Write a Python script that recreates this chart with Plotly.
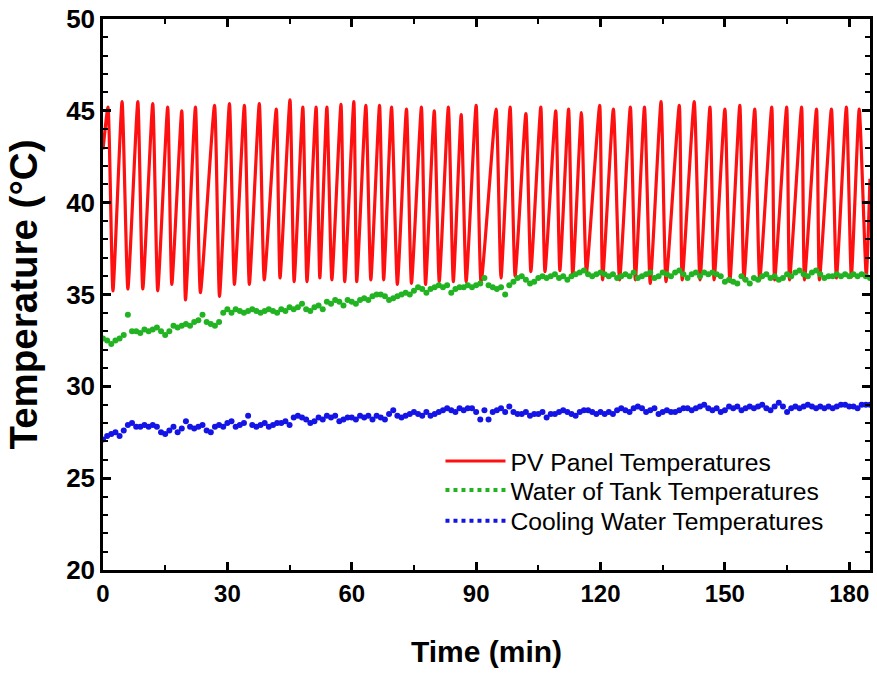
import plotly.graph_objects as go

# PV panel temperature cycles: start value, peaks, troughs and end value
pv_start = (0.0, 42.9)
pv_end = (185.0, 41.3)
peak_t = [1.2, 4.6, 8.4, 12.0, 15.6, 19.0, 22.3, 26.9, 30.5, 34.1, 37.7, 41.8, 45.1,
          48.2, 51.4, 54.0, 57.4, 60.5, 63.4, 66.7, 69.6, 73.2, 76.8, 79.9, 83.3, 86.4,
          90.0, 94.8, 98.2, 102.0, 105.6, 109.2, 112.3, 115.4, 119.8, 123.1, 127.2, 130.6,
          134.6, 139.0, 142.6, 146.4, 150.0, 153.6, 157.2, 161.3, 164.9, 168.5, 172.1,
          175.7, 179.3, 182.4]
peak_v = [45.2, 45.5, 45.5, 45.4, 45.2, 45.0, 45.2, 45.3, 45.4, 45.3, 45.4, 45.1, 45.6,
          45.2, 45.2, 45.2, 45.35, 45.5, 45.3, 45.3, 45.2, 45.1, 45.2, 45.0, 45.2, 44.8,
          45.3, 45.1, 45.2, 44.85, 45.2, 45.0, 45.1, 44.9, 45.3, 45.1, 45.2, 45.2,
          45.5, 45.3, 45.5, 45.2, 45.1, 45.3, 45.1, 45.2, 45.2, 45.2, 45.1,
          45.1, 45.2, 45.1]
trough_t = [2.4, 6.0, 9.6, 13.2, 16.6, 19.9, 23.5, 28.1, 31.7, 35.3, 38.9, 42.7, 46.1,
            49.2, 52.3, 55.2, 58.3, 61.2, 64.6, 67.7, 71.0, 74.4, 77.8, 81.1, 84.5, 87.6,
            91.2, 96.0, 99.4, 103.2, 106.6, 110.2, 113.3, 116.6, 120.5, 124.6, 128.4, 132.0,
            135.8, 139.7, 144.0, 147.4, 151.2, 154.6, 158.4, 162.0, 165.6, 169.2, 172.8,
            176.9, 180.5, 184.1]
trough_v = [35.2, 35.3, 35.3, 35.2, 35.55, 34.7, 35.1, 34.9, 35.55, 35.55, 35.8, 35.9, 35.7,
            35.7, 35.9, 35.8, 35.7, 35.7, 35.8, 35.8, 35.55, 35.6, 35.55, 35.7, 35.7, 35.7,
            35.65, 35.9, 36.0, 36.25, 36.25, 36.3, 36.0, 36.2, 35.8, 35.8, 35.8, 35.6,
            35.7, 35.8, 35.8, 35.8, 35.7, 35.8, 35.8, 35.8, 35.8, 35.8, 35.8,
            35.9, 35.95, 36.0]

# Water temperatures sampled once a minute
time_min = list(range(0, 186))
tank_water = [
    32.6, 32.5, 32.3, 32.5, 32.6, 32.8, 33.9, 33.0, 33.0, 32.9,
    33.1, 33.0, 33.1, 33.2, 33.0, 32.8, 33.0, 33.3, 33.2, 33.3,
    33.4, 33.3, 33.5, 33.6, 33.9, 33.5, 33.4, 33.3, 33.5, 34.0,
    34.2, 34.0, 34.2, 34.1, 34.0, 34.1, 34.2, 34.1, 34.0, 34.1,
    34.2, 34.1, 34.0, 34.2, 34.1, 34.3, 34.2, 34.3, 34.5, 34.2,
    34.1, 34.3, 34.4, 34.2, 34.6, 34.5, 34.7, 34.6, 34.4, 34.7,
    34.6, 34.5, 34.7, 34.8, 34.7, 34.9, 35.0, 35.0, 34.9, 34.7,
    34.8, 34.9, 35.0, 35.1, 35.0, 35.2, 35.4, 35.3, 35.1, 35.3,
    35.4, 35.5, 35.4, 35.5, 35.1, 35.3, 35.4, 35.4, 35.5, 35.4,
    35.5, 35.6, 35.9, 35.5, 35.4, 35.3, 35.4, 35.0, 35.5, 35.7,
    35.9, 36.0, 35.8, 35.6, 35.7, 35.9, 36.0, 35.9, 36.0, 36.1,
    35.9, 36.0, 35.8, 36.0, 36.1, 36.2, 36.3, 36.1, 36.0, 36.1,
    36.2, 36.1, 36.0, 36.1, 35.9, 36.0, 36.1, 36.0, 36.2, 35.9,
    36.0, 36.1, 36.2, 35.9, 36.0, 36.2, 36.1, 36.0, 36.2, 36.3,
    36.1, 35.9, 36.1, 36.2, 36.0, 36.2, 36.1, 36.2, 36.1, 36.0,
    35.7, 35.8, 35.7, 35.6, 36.0, 35.8, 35.6, 35.9, 35.8, 36.0,
    36.1, 35.9, 36.0, 35.8, 35.9, 36.1, 36.0, 36.2, 36.3, 36.1,
    36.0, 36.2, 36.3, 36.1, 35.9, 36.0, 36.0, 36.1, 36.0, 36.1,
    36.0, 36.1, 36.0, 36.1, 36.0, 35.9,
]
cooling_water = [
    27.1, 27.3, 27.4, 27.5, 27.3, 27.6, 27.9, 28.0, 27.8, 27.8,
    27.9, 27.8, 27.9, 27.8, 27.5, 27.4, 27.6, 27.8, 27.5, 27.7,
    28.1, 27.8, 27.7, 27.8, 27.9, 27.6, 27.5, 27.8, 27.9, 27.8,
    28.0, 28.1, 27.8, 27.9, 28.0, 28.4, 27.9, 27.8, 27.9, 28.0,
    27.8, 27.9, 28.0, 28.0, 28.1, 27.9, 28.3, 28.4, 28.3, 28.2,
    28.0, 28.1, 28.3, 28.2, 28.4, 28.3, 28.4, 28.1, 28.2, 28.3,
    28.3, 28.2, 28.4, 28.3, 28.4, 28.2, 28.4, 28.3, 28.2, 28.5,
    28.7, 28.4, 28.3, 28.4, 28.5, 28.6, 28.5, 28.4, 28.6, 28.4,
    28.5, 28.6, 28.7, 28.8, 28.7, 28.6, 28.8, 28.7, 28.8, 28.8,
    28.6, 28.2, 28.7, 28.2, 28.6, 28.7, 28.8, 28.6, 28.9, 28.6,
    28.5, 28.5, 28.6, 28.4, 28.5, 28.5, 28.6, 28.3, 28.5, 28.5,
    28.6, 28.7, 28.6, 28.5, 28.4, 28.6, 28.7, 28.7, 28.6, 28.5,
    28.6, 28.5, 28.6, 28.5, 28.7, 28.8, 28.7, 28.6, 28.8, 28.9,
    28.8, 28.6, 28.7, 28.8, 28.5, 28.6, 28.7, 28.6, 28.6, 28.7,
    28.8, 28.8, 28.7, 28.8, 28.9, 29.0, 28.8, 28.7, 28.8, 28.6,
    28.7, 28.9, 28.8, 28.9, 28.7, 28.8, 28.9, 28.8, 28.9, 29.0,
    28.8, 28.7, 28.9, 29.1, 28.9, 28.6, 28.8, 28.9, 28.8, 28.9,
    29.0, 28.9, 28.8, 28.9, 28.8, 28.9, 28.8, 28.9, 29.0, 29.0,
    28.9, 28.9, 28.8, 29.0, 29.0, 29.0,
]

x_ticks = [0, 30, 60, 90, 120, 150, 180]
y_ticks = [20, 25, 30, 35, 40, 45, 50]

# Assemble the PV polyline: start, then alternating peak/trough, then end
pv_t = [pv_start[0]]
pv_v = [pv_start[1]]
for pt, pv, tt, tv in zip(peak_t, peak_v, trough_t, trough_v):
    pv_t += [pt, tt]
    pv_v += [pv, tv]
pv_t.append(pv_end[0])
pv_v.append(pv_end[1])

RED = "#ff1010"
GREEN = "#22b322"
BLUE = "#1414e6"
FONT = "Liberation Sans, Arial, sans-serif"

fig = go.Figure()
fig.add_trace(go.Scatter(
    x=pv_t, y=pv_v, mode="lines", name="PV Panel Temperatures", legend="legend",
    line=dict(color=RED, width=3.2, shape="spline", smoothing=0.5),
))
fig.add_trace(go.Scatter(
    x=time_min, y=tank_water, mode="markers", showlegend=False,
    marker=dict(color=GREEN, size=6),
))
fig.add_trace(go.Scatter(
    x=time_min, y=cooling_water, mode="markers", showlegend=False,
    marker=dict(color=BLUE, size=6),
))
# dotted legend keys for the sampled series
fig.add_trace(go.Scatter(
    x=[None], y=[None], mode="lines", name="Water of Tank Temperatures", legend="legend2",
    line=dict(color=GREEN, width=4, dash="dot"),
))
fig.add_trace(go.Scatter(
    x=[None], y=[None], mode="lines", name="Cooling Water Temperatures", legend="legend3",
    line=dict(color=BLUE, width=4, dash="dot"),
))

axis_common = dict(
    showgrid=False, zeroline=False, showline=True, linecolor="black", linewidth=2.5,
    mirror="allticks", ticks="inside", ticklen=8, tickwidth=2.5, tickcolor="black",
)
fig.update_xaxes(
    range=[0, 185], tickvals=x_ticks, ticktext=[str(v) for v in x_ticks],
    minor=dict(dtick=15, tick0=0, ticks="inside", ticklen=5, tickwidth=2, tickcolor="black"),
    tickfont=dict(family=FONT, size=24, color="black", weight="bold"),
    title=dict(text="<b>Time (min)</b>", font=dict(family=FONT, size=30, color="black"),
               standoff=36),
    **axis_common,
)
fig.update_yaxes(
    range=[20, 50], tickvals=y_ticks, ticktext=[str(v) for v in y_ticks],
    minor=dict(dtick=1, tick0=20, ticks="inside", ticklen=5, tickwidth=2, tickcolor="black"),
    tickfont=dict(family=FONT, size=26, color="black", weight="bold"),
    title=dict(text="<b>Temperature (°C)</b>", font=dict(family=FONT, size=38.5, color="black"),
               standoff=17),
    **axis_common,
)

legend_common = dict(
    x=0.44, xanchor="left", yanchor="middle",
    bgcolor="rgba(0,0,0,0)", borderwidth=0,
    font=dict(family=FONT, size=24.7, color="black"),
    itemwidth=60,
)
fig.update_layout(
    width=877, height=675,
    margin=dict(l=103, r=4, t=17, b=105),
    paper_bgcolor="white", plot_bgcolor="white",
    font=dict(family=FONT, color="black"),
    legend=dict(y=0.197, **legend_common),
    legend2=dict(y=0.1445, **legend_common),
    legend3=dict(y=0.0886, **legend_common),
)

fig.write_html("out.html")
